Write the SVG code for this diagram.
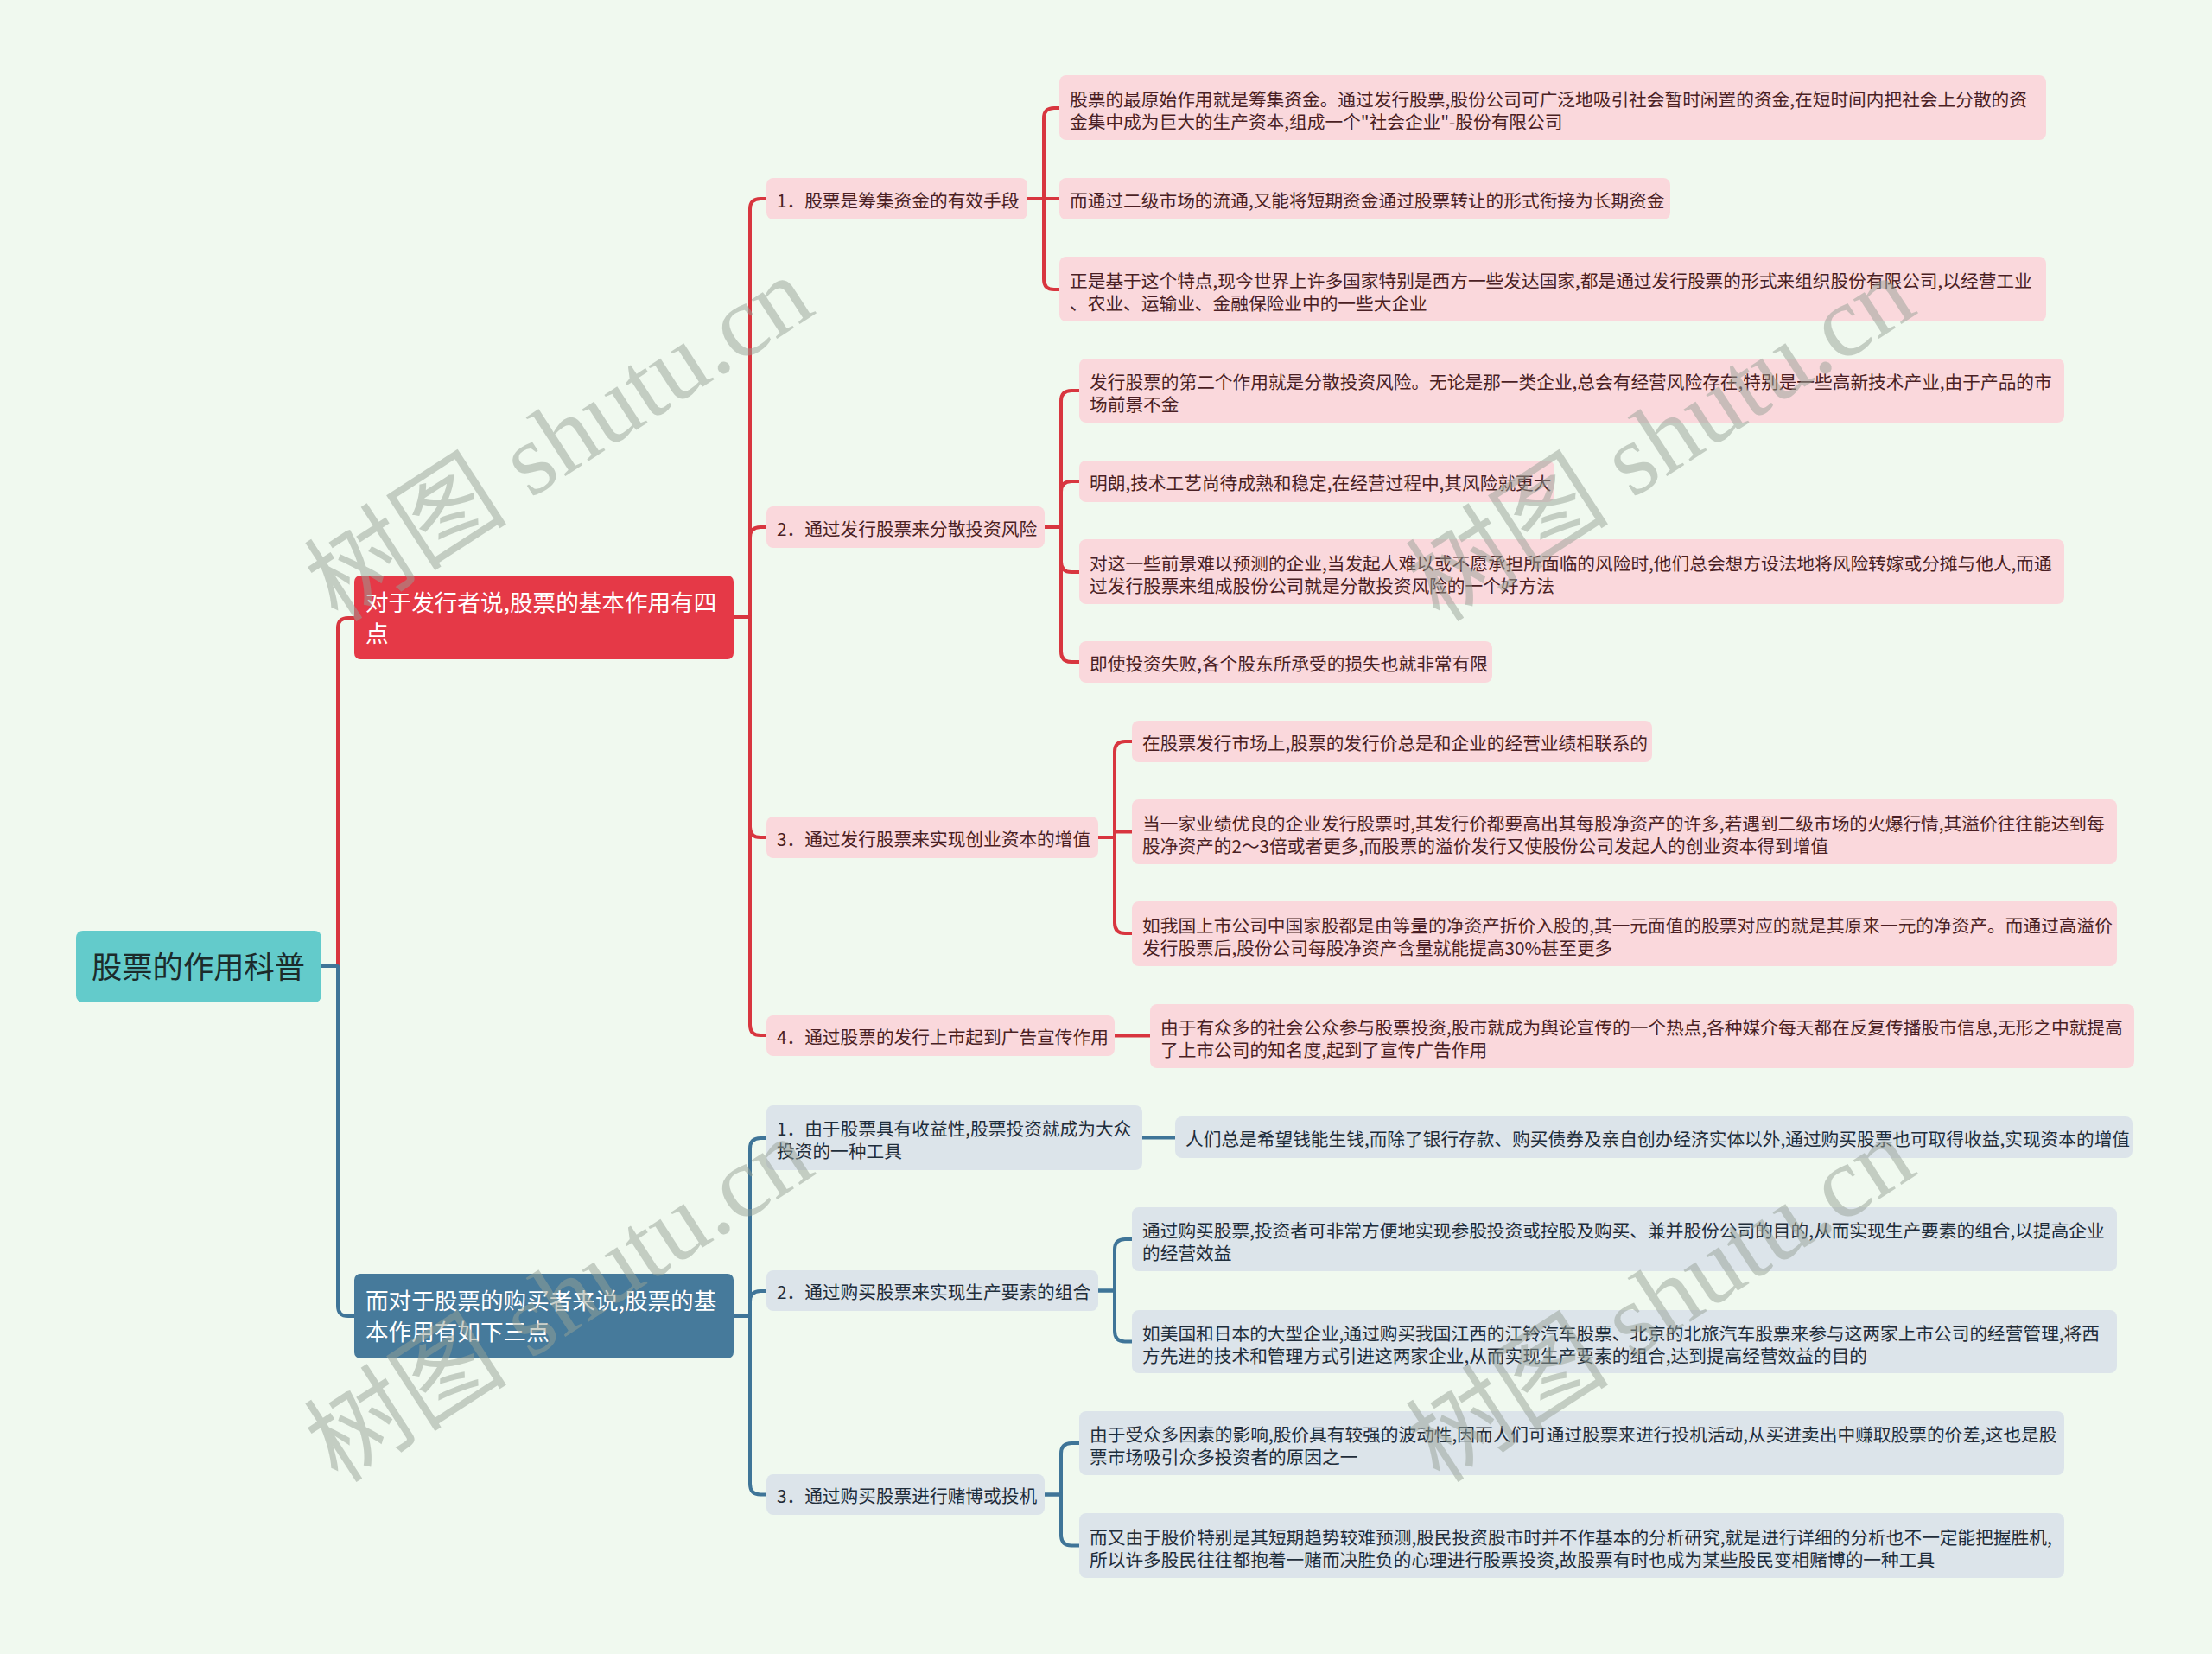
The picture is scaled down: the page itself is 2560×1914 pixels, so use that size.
<svg xmlns="http://www.w3.org/2000/svg" width="2560" height="1914" viewBox="0 0 2560 1914">
<style>
.bg{fill:#F0F9EF}
.root{fill:#63CBCB}
.rm{fill:#E53947}
.bm{fill:#467A9B}
.pk{fill:#FAD8DC}
.bl{fill:#DCE4EA}
text{font-family:"Noto Sans CJK SC","Noto Sans",sans-serif}
.t0{font-size:35.3px;fill:#1C2B2B}
.t1{font-size:26.6px;fill:#FFFFFF}
.tp{font-size:20.7px;fill:#4A1F24}
.tb{font-size:20.7px;fill:#1F2D3A}
.lr{fill:none;stroke:#D8363F;stroke-width:4;stroke-linejoin:round;stroke-linecap:round}
.lb{fill:none;stroke:#3F7598;stroke-width:4;stroke-linejoin:round;stroke-linecap:round}
.wm{font-family:"Liberation Serif","Noto Sans CJK SC",serif;font-size:118px;fill:#97A297;opacity:0.5}
</style>
<rect class="bg" x="0" y="0" width="2560" height="1914"/>
<g id="connectors">
<path class="lr" d="M372 1118 H391 V727 Q391 715 403 715 H410"/>
<path class="lb" d="M372 1118 H391 V1511 Q391 1523 403 1523 H410"/>
<path class="lr" d="M849 714 H868 V242 Q868 230 880 230 H887"/>
<path class="lr" d="M849 714 H868 V622 Q868 610 880 610 H887"/>
<path class="lr" d="M849 714 H868 V957 Q868 969 880 969 H887"/>
<path class="lr" d="M849 714 H868 V1186 Q868 1198 880 1198 H887"/>
<path class="lr" d="M1189 230 H1208 V137 Q1208 125 1220 125 H1226"/>
<path class="lr" d="M1189 230 H1226"/>
<path class="lr" d="M1189 230 H1208 V323 Q1208 335 1220 335 H1226"/>
<path class="lr" d="M1209 610 H1228 V464 Q1228 452 1240 452 H1249"/>
<path class="lr" d="M1209 610 H1228 V569 Q1228 557 1240 557 H1249"/>
<path class="lr" d="M1209 610 H1228 V650 Q1228 662 1240 662 H1249"/>
<path class="lr" d="M1209 610 H1228 V754 Q1228 766 1240 766 H1249"/>
<path class="lr" d="M1271 969 H1290 V870 Q1290 858 1302 858 H1310"/>
<path class="lr" d="M1271 969 H1290 V962.5 H1310"/>
<path class="lr" d="M1271 969 H1290 V1068 Q1290 1080 1302 1080 H1310"/>
<path class="lr" d="M1290 1198.5 H1331"/>
<path class="lb" d="M849 1523 H868 V1329 Q868 1317 880 1317 H887"/>
<path class="lb" d="M849 1523 H868 V1506 Q868 1494 880 1494 H887"/>
<path class="lb" d="M849 1523 H868 V1717 Q868 1729.5 880 1729.5 H887"/>
<path class="lb" d="M1322 1316.5 H1360"/>
<path class="lb" d="M1271 1493.5 H1290 V1446 Q1290 1434 1302 1434 H1310"/>
<path class="lb" d="M1271 1493.5 H1290 V1540 Q1290 1552.5 1302 1552.5 H1310"/>
<path class="lb" d="M1209 1729.5 H1228 V1682 Q1228 1670 1240 1670 H1249"/>
<path class="lb" d="M1209 1729.5 H1228 V1776 Q1228 1788.5 1240 1788.5 H1249"/>
</g>
<g id="root"><rect class="root" x="88" y="1077" width="284" height="83" rx="8"/><text class="t0" x="106" y="1132">股票的作用科普</text></g>
<g id="main-issuer"><rect class="rm" x="410" y="666" width="439" height="97" rx="7"/><text class="t1" x="423" y="707">对于发行者说,股票的基本作用有四</text><text class="t1" x="423" y="743">点</text></g>
<g id="main-buyer"><rect class="bm" x="410" y="1474" width="439" height="98" rx="7"/><text class="t1" x="423" y="1515">而对于股票的购买者来说,股票的基</text><text class="t1" x="423" y="1551">本作用有如下三点</text></g>
<g id="i1"><rect class="pk" x="887" y="206" width="302" height="48" rx="8"/><text class="tp" x="899" y="240">1．股票是筹集资金的有效手段</text></g>
<g id="i2"><rect class="pk" x="887" y="586" width="322" height="48" rx="8"/><text class="tp" x="899" y="620">2．通过发行股票来分散投资风险</text></g>
<g id="i3"><rect class="pk" x="887" y="945" width="384" height="48" rx="8"/><text class="tp" x="899" y="979">3．通过发行股票来实现创业资本的增值</text></g>
<g id="i4"><rect class="pk" x="887" y="1175" width="403" height="47" rx="8"/><text class="tp" x="899" y="1208">4．通过股票的发行上市起到广告宣传作用</text></g>
<g id="a"><rect class="pk" x="1226" y="87" width="1142" height="75" rx="8"/><text class="tp" x="1238" y="123">股票的最原始作用就是筹集资金。通过发行股票,股份公司可广泛地吸引社会暂时闲置的资金,在短时间内把社会上分散的资</text><text class="tp" x="1238" y="149">金集中成为巨大的生产资本,组成一个"社会企业"-股份有限公司</text></g>
<g id="b"><rect class="pk" x="1226" y="206" width="707" height="48" rx="8"/><text class="tp" x="1238" y="240">而通过二级市场的流通,又能将短期资金通过股票转让的形式衔接为长期资金</text></g>
<g id="c"><rect class="pk" x="1226" y="297" width="1142" height="75" rx="8"/><text class="tp" x="1238" y="333">正是基于这个特点,现今世界上许多国家特别是西方一些发达国家,都是通过发行股票的形式来组织股份有限公司,以经营工业</text><text class="tp" x="1238" y="359">、农业、运输业、金融保险业中的一些大企业</text></g>
<g id="d"><rect class="pk" x="1249" y="415" width="1140" height="74" rx="8"/><text class="tp" x="1261" y="450">发行股票的第二个作用就是分散投资风险。无论是那一类企业,总会有经营风险存在,特别是一些高新技术产业,由于产品的市</text><text class="tp" x="1261" y="476">场前景不金</text></g>
<g id="e"><rect class="pk" x="1249" y="533" width="550" height="48" rx="8"/><text class="tp" x="1261" y="567">明朗,技术工艺尚待成熟和稳定,在经营过程中,其风险就更大</text></g>
<g id="f"><rect class="pk" x="1249" y="624" width="1140" height="75" rx="8"/><text class="tp" x="1261" y="660">对这一些前景难以预测的企业,当发起人难以或不愿承担所面临的风险时,他们总会想方设法地将风险转嫁或分摊与他人,而通</text><text class="tp" x="1261" y="686">过发行股票来组成股份公司就是分散投资风险的一个好方法</text></g>
<g id="g"><rect class="pk" x="1249" y="742" width="478" height="48" rx="8"/><text class="tp" x="1261" y="776">即使投资失败,各个股东所承受的损失也就非常有限</text></g>
<g id="h"><rect class="pk" x="1310" y="834" width="602" height="48" rx="8"/><text class="tp" x="1322" y="868">在股票发行市场上,股票的发行价总是和企业的经营业绩相联系的</text></g>
<g id="i"><rect class="pk" x="1310" y="925" width="1140" height="75" rx="8"/><text class="tp" x="1322" y="961">当一家业绩优良的企业发行股票时,其发行价都要高出其每股净资产的许多,若遇到二级市场的火爆行情,其溢价往往能达到每</text><text class="tp" x="1322" y="987">股净资产的2～3倍或者更多,而股票的溢价发行又使股份公司发起人的创业资本得到增值</text></g>
<g id="j"><rect class="pk" x="1310" y="1043" width="1140" height="75" rx="8"/><text class="tp" x="1322" y="1079">如我国上市公司中国家股都是由等量的净资产折价入股的,其一元面值的股票对应的就是其原来一元的净资产。而通过高溢价</text><text class="tp" x="1322" y="1105">发行股票后,股份公司每股净资产含量就能提高30%甚至更多</text></g>
<g id="k"><rect class="pk" x="1331" y="1162" width="1139" height="74" rx="8"/><text class="tp" x="1343" y="1197">由于有众多的社会公众参与股票投资,股市就成为舆论宣传的一个热点,各种媒介每天都在反复传播股市信息,无形之中就提高</text><text class="tp" x="1343" y="1223">了上市公司的知名度,起到了宣传广告作用</text></g>
<g id="b1"><rect class="bl" x="887" y="1279" width="435" height="75" rx="8"/><text class="tb" x="899" y="1314">1．由于股票具有收益性,股票投资就成为大众</text><text class="tb" x="899" y="1340">投资的一种工具</text></g>
<g id="b2"><rect class="bl" x="887" y="1470" width="384" height="47" rx="8"/><text class="tb" x="899" y="1503">2．通过购买股票来实现生产要素的组合</text></g>
<g id="b3"><rect class="bl" x="887" y="1706" width="322" height="47" rx="8"/><text class="tb" x="899" y="1739">3．通过购买股票进行赌博或投机</text></g>
<g id="l"><rect class="bl" x="1360" y="1292" width="1108" height="48" rx="8"/><text class="tb" x="1372" y="1326">人们总是希望钱能生钱,而除了银行存款、购买债券及亲自创办经济实体以外,通过购买股票也可取得收益,实现资本的增值</text></g>
<g id="m"><rect class="bl" x="1310" y="1397" width="1140" height="74" rx="8"/><text class="tb" x="1322" y="1432">通过购买股票,投资者可非常方便地实现参股投资或控股及购买、兼并股份公司的目的,从而实现生产要素的组合,以提高企业</text><text class="tb" x="1322" y="1458">的经营效益</text></g>
<g id="n"><rect class="bl" x="1310" y="1516" width="1140" height="73" rx="8"/><text class="tb" x="1322" y="1551">如美国和日本的大型企业,通过购买我国江西的江铃汽车股票、北京的北旅汽车股票来参与这两家上市公司的经营管理,将西</text><text class="tb" x="1322" y="1577">方先进的技术和管理方式引进这两家企业,从而实现生产要素的组合,达到提高经营效益的目的</text></g>
<g id="o"><rect class="bl" x="1249" y="1633" width="1140" height="74" rx="8"/><text class="tb" x="1261" y="1668">由于受众多因素的影响,股价具有较强的波动性,因而人们可通过股票来进行投机活动,从买进卖出中赚取股票的价差,这也是股</text><text class="tb" x="1261" y="1694">票市场吸引众多投资者的原因之一</text></g>
<g id="p"><rect class="bl" x="1249" y="1751" width="1140" height="75" rx="8"/><text class="tb" x="1261" y="1787">而又由于股价特别是其短期趋势较难预测,股民投资股市时并不作基本的分析研究,就是进行详细的分析也不一定能把握胜机,</text><text class="tb" x="1261" y="1813">所以许多股民往往都抱着一赌而决胜负的心理进行股票投资,故股票有时也成为某些股民变相赌博的一种工具</text></g>
<g id="watermarks">
<text class="wm" text-anchor="middle" transform="translate(647 508) rotate(-33)" x="0" y="40">树图 shutu.cn</text>
<text class="wm" text-anchor="middle" transform="translate(1922 508) rotate(-33)" x="0" y="40">树图 shutu.cn</text>
<text class="wm" text-anchor="middle" transform="translate(647 1504) rotate(-33)" x="0" y="40">树图 shutu.cn</text>
<text class="wm" text-anchor="middle" transform="translate(1922 1504) rotate(-33)" x="0" y="40">树图 shutu.cn</text>
</g>
</svg>
